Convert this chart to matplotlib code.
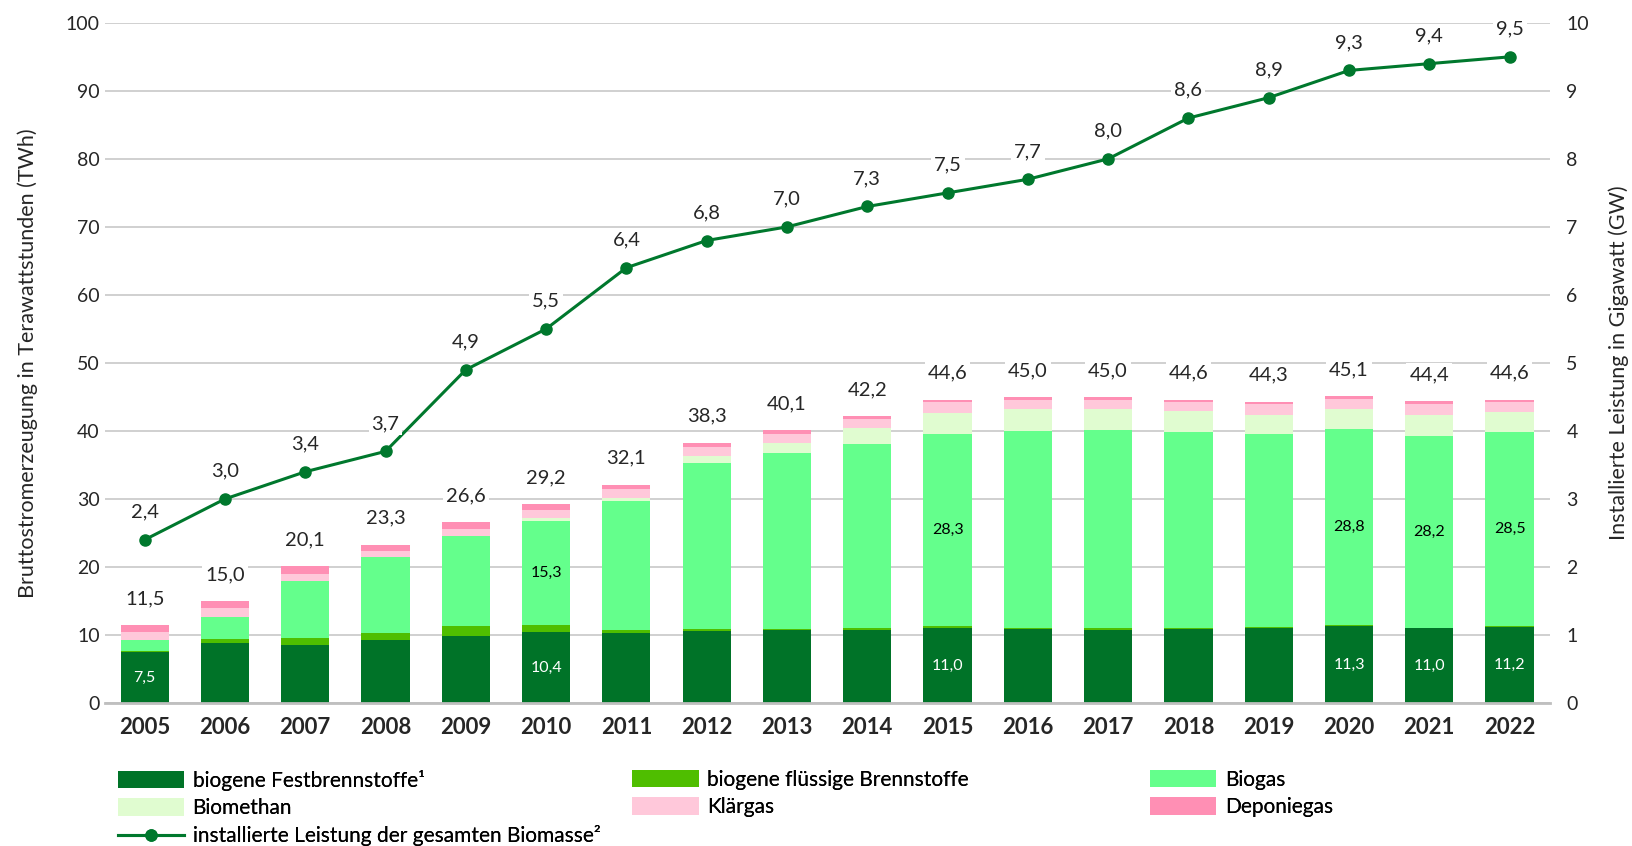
import numpy as np
import matplotlib.pyplot as plt

plt.rcParams['font.family'] = ['Lato', 'DejaVu Sans']

years = [str(y) for y in range(2005, 2023)]

# TWh per source
fest = [7.5, 8.8, 8.6, 9.2, 9.8, 10.4, 10.3, 10.6, 10.7, 10.8, 11.0, 10.9, 10.7, 10.9, 11.0, 11.3, 11.0, 11.2]
fluessig = [0.2, 0.6, 1.0, 1.1, 1.5, 1.1, 0.5, 0.3, 0.2, 0.3, 0.3, 0.2, 0.3, 0.2, 0.2, 0.2, 0.1, 0.1]
biogas = [1.6, 3.3, 8.4, 11.1, 13.2, 15.3, 18.9, 24.4, 25.9, 27.0, 28.3, 28.9, 29.2, 28.8, 28.3, 28.8, 28.2, 28.5]
biomethan = [0.0, 0.0, 0.0, 0.0, 0.0, 0.4, 0.5, 1.0, 1.5, 2.3, 3.1, 3.2, 3.0, 3.0, 2.9, 2.9, 3.0, 3.0]
klaergas = [1.1, 1.2, 1.0, 1.0, 1.1, 1.2, 1.2, 1.3, 1.3, 1.4, 1.5, 1.4, 1.4, 1.3, 1.5, 1.5, 1.6, 1.5]
deponie = [1.1, 1.1, 1.1, 0.9, 1.0, 0.8, 0.7, 0.7, 0.5, 0.4, 0.4, 0.4, 0.4, 0.4, 0.4, 0.4, 0.5, 0.3]
totals = [11.5, 15.0, 20.1, 23.3, 26.6, 29.2, 32.1, 38.3, 40.1, 42.2, 44.6, 45.0, 45.0, 44.6, 44.3, 45.1, 44.4, 44.6]

# installed capacity GW
leistung = [2.4, 3.0, 3.4, 3.7, 4.9, 5.5, 6.4, 6.8, 7.0, 7.3, 7.5, 7.7, 8.0, 8.6, 8.9, 9.3, 9.4, 9.5]

# years whose segments carry a value label inside
fest_label_years = ['2005', '2010', '2015', '2020', '2021', '2022']
biogas_label_years = ['2010', '2015', '2020', '2021', '2022']

series = [
    ('biogene Festbrennstoffe\u00b9', fest, '#007328'),
    ('biogene flüssige Brennstoffe', fluessig, '#4fbe00'),
    ('Biogas', biogas, '#64ff8c'),
    ('Biomethan', biomethan, '#e0fcd0'),
    ('Klärgas', klaergas, '#ffc8da'),
    ('Deponiegas', deponie, '#ff8fb4'),
]

def fmt(v):
    return f'{v:.1f}'.replace('.', ',')

fig = plt.figure(figsize=(16.33, 8.46), dpi=100)
ax = fig.add_axes([0.064, 0.169, 0.885, 0.804])
ax2 = ax.twinx()

x = np.arange(len(years))
bottom = np.zeros(len(years))
bars = {}
for name, vals, col in series:
    b = ax.bar(x, vals, 0.6, bottom=bottom, color=col, label=name, zorder=2)
    bars[name] = b
    bottom += np.array(vals)

# labels inside segments
for i, yr in enumerate(years):
    if yr in fest_label_years:
        ax.text(x[i], fest[i] / 2, fmt(fest[i]), ha='center', va='center',
                color='white', fontsize=11.5, zorder=4)
    if yr in biogas_label_years:
        b0 = fest[i] + fluessig[i]
        ax.text(x[i], b0 + biogas[i] / 2, fmt(biogas[i]), ha='center', va='center',
                color='black', fontsize=11.5, zorder=4)

# totals above bars
for i, t in enumerate(totals):
    ax.annotate(fmt(t), (x[i], bottom[i]), xytext=(0, 19), textcoords='offset points',
                ha='center', va='center', fontsize=14.5, color='#262626',
                bbox=dict(boxstyle='square,pad=0.15', fc='white', ec='none'), zorder=5)

ax.set_ylim(0, 100)
ax.set_yticks(range(0, 101, 10))
ax.set_xlim(-0.5, len(years) - 0.5)
ax.set_xticks(x)
ax.set_xticklabels(years, fontweight='bold')
ax.yaxis.grid(True, color='#c8c8c8', lw=1.2, zorder=0)
ax.set_axisbelow(True)
for s in ['top', 'right', 'left']:
    ax.spines[s].set_visible(False)
ax.spines['bottom'].set_color('#bfbfbf')
ax.spines['bottom'].set_linewidth(2)
ax.tick_params(axis='both', length=0, labelsize=14, colors='#262626')
ax.tick_params(axis='x', pad=10, labelsize=16)
ax.set_ylabel('Bruttostromerzeugung in Terawattstunden (TWh)', fontsize=15.5, color='#262626', labelpad=20)

ln, = ax2.plot(x, leistung, color='#00782d', lw=2.2, marker='o', ms=8, zorder=6,
               label='installierte Leistung der gesamten Biomasse\u00b2')
for i, v in enumerate(leistung):
    ax2.annotate(fmt(v), (x[i], v), xytext=(0, 20), textcoords='offset points',
                 ha='center', va='center', fontsize=14.5, color='#262626',
                 bbox=dict(boxstyle='square,pad=0.15', fc='white', ec='none'), zorder=7)
ax2.set_ylim(0, 10)
ax2.set_yticks(range(0, 11))
for s in ax2.spines.values():
    s.set_visible(False)
ax2.tick_params(axis='y', length=0, labelsize=14, colors='#262626', pad=12)
ax2.set_ylabel('Installierte Leistung in Gigawatt (GW)', fontsize=15.5, color='#262626', labelpad=14)
ax2.set_zorder(ax.get_zorder() + 1)
ax2.patch.set_visible(False)

# legend: three separate columns so their x positions match
names = [n for n, _, _ in series]
columns = [
    ([bars[names[0]], bars[names[3]], ln], [names[0], names[3], ln.get_label()], 0.072),
    ([bars[names[1]], bars[names[4]]], [names[1], names[4]], 0.387),
    ([bars[names[2]], bars[names[5]]], [names[2], names[5]], 0.704),
]
for hs, ls, xpos in columns:
    leg = fig.legend(hs, ls, loc='upper left', bbox_to_anchor=(xpos, 0.090),
                     frameon=False, fontsize=15, handlelength=3.2, handleheight=0.9,
                     labelspacing=0.35, handletextpad=0.4, borderaxespad=0, borderpad=0)
    fig.add_artist(leg)

fig.savefig('out.png', dpi=100)
